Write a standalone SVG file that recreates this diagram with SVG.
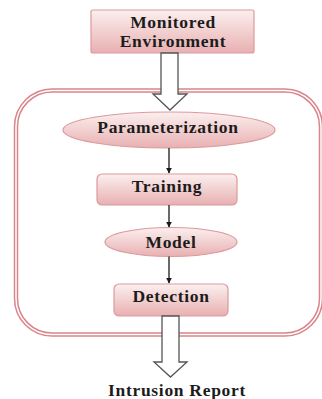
<svg xmlns="http://www.w3.org/2000/svg" width="322" height="399" viewBox="0 0 322 399">
<defs>
<linearGradient id="pink" x1="0" y1="0" x2="0" y2="1">
<stop offset="0" stop-color="#fcefef"/>
<stop offset="1" stop-color="#e8b0b1"/>
</linearGradient>
<marker id="ah" viewBox="0 0 10 10" refX="9" refY="5" markerWidth="6" markerHeight="6" orient="auto" markerUnits="userSpaceOnUse">
<path d="M0,0 L10,5 L0,10 z" fill="#1a1a1a"/>
</marker>
</defs>
<style>
.node{fill:url(#pink);stroke:#dc9a9c;stroke-width:1.2}
.lbl{font-family:"Liberation Serif","Times New Roman",serif;font-weight:bold;font-size:17.5px;fill:#1c1c1c;text-anchor:middle;letter-spacing:0.7px}
.thin{stroke:#1a1a1a;stroke-width:1.3;fill:none}
.block{fill:#ffffff;stroke:#555555;stroke-width:1.3}
.outerA{fill:none;stroke:#d9858a;stroke-width:4.5}
.outerB{fill:none;stroke:#ffffff;stroke-width:1.5}
</style>
<g id="container">
<rect class="outerA" x="16" y="90.5" width="305" height="244" rx="36"/>
<rect class="outerB" x="16" y="90.5" width="305" height="244" rx="36"/>
</g>
<g id="monitored">
<rect class="node" x="91" y="10" width="163" height="43" rx="2"/>
<text class="lbl" x="173" y="28">Monitored</text>
<text class="lbl" x="173" y="47">Environment</text>
</g>
<g id="parameterization">
<ellipse class="node" cx="169" cy="130" rx="106" ry="18"/>
<text class="lbl" x="168" y="133">Parameterization</text>
</g>
<g id="training">
<rect class="node" x="97" y="174" width="140" height="31" rx="5"/>
<text class="lbl" x="167" y="192">Training</text>
</g>
<g id="model">
<ellipse class="node" cx="171" cy="242" rx="66" ry="14.5"/>
<text class="lbl" x="171" y="247.5">Model</text>
</g>
<g id="detection">
<rect class="node" x="114" y="284" width="114" height="32" rx="5"/>
<text class="lbl" x="171" y="302">Detection</text>
</g>
<g id="report">
<text class="lbl" x="177" y="396">Intrusion Report</text>
</g>
<g id="connectors">
<path class="block" d="M161,53 L178,53 L178,94 L187,94 L170,110 L153,94 L161,94 Z"/>
<line class="thin" x1="169" y1="148" x2="169" y2="173" marker-end="url(#ah)"/>
<line class="thin" x1="169" y1="205" x2="169" y2="227" marker-end="url(#ah)"/>
<line class="thin" x1="169" y1="256.5" x2="169" y2="283" marker-end="url(#ah)"/>
<path class="block" d="M162,316 L179,316 L179,362 L187,362 L170.5,377 L154,362 L162,362 Z"/>
</g>
</svg>
